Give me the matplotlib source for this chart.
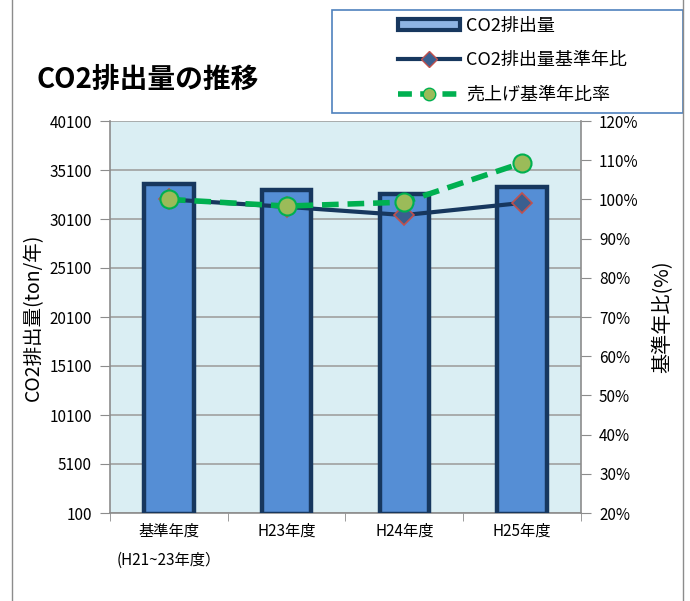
import numpy as np
import matplotlib
matplotlib.use('Agg')
import matplotlib.pyplot as plt
from matplotlib.patches import Patch, Rectangle
from matplotlib.lines import Line2D
from matplotlib.ticker import FuncFormatter

plt.rcParams['font.family'] = ['Noto Sans CJK JP', 'DejaVu Sans']

categories = ['基準年度\n(H21~23年度）', 'H23年度', 'H24年度', 'H25年度']
co2 = [33670, 33060, 32650, 33370]
co2_ratio = [1.000, 0.981, 0.960, 0.991]
sales_ratio = [1.000, 0.983, 0.993, 1.093]
left_ticks = [100, 5100, 10100, 15100, 20100, 25100, 30100, 35100, 40100]
right_ticks = [0.2, 0.3, 0.4, 0.5, 0.6, 0.7, 0.8, 0.9, 1.0, 1.1, 1.2]

W, H = 690, 601
fig = plt.figure(figsize=(W / 100, H / 100), dpi=100)

# outer chart border (cropped at top/bottom)
fig.add_artist(Line2D([12 / W, 12 / W], [0, 1], color='#8c8c8c', lw=1))
fig.add_artist(Line2D([683 / W, 683 / W], [0, 1], color='#8c8c8c', lw=1))

ax = fig.add_axes([110 / W, (H - 513) / H, 471 / W, 392 / H])
ax.set_facecolor('#daeef3')
x = np.arange(len(categories))
ax.bar(x, co2, width=0.42, color='#558ed5', edgecolor='#17375e', linewidth=3.2, zorder=3)
ax.set_ylim(100, 40100)
ax.set_xlim(-0.5, 3.5)
ax.set_yticks(left_ticks)
ax.yaxis.grid(True, color='#a0a0a0', linewidth=1.2, zorder=0)
ax.set_axisbelow(True)
ax.set_xticks(x)
ax.set_xticklabels(categories, fontsize=11, linespacing=1.9)
ax.set_xticks(np.arange(-0.5, 4.0, 1.0), minor=True)
ax.tick_params(axis='x', which='major', length=0, pad=7)
ax.tick_params(axis='x', which='minor', length=6, color='#8c8c8c', direction='out')
ax.tick_params(axis='y', length=7, color='#8c8c8c', labelsize=11, pad=6)
for s in ['top', 'right']:
    ax.spines[s].set_visible(False)
for s in ['left', 'bottom']:
    ax.spines[s].set_color('#8c8c8c')
    ax.spines[s].set_linewidth(1.2)
ax.set_ylabel('CO2排出量(ton/年)', fontsize=14, labelpad=4)

ax2 = ax.twinx()
ax2.set_ylim(0.2, 1.2)
ax2.set_yticks(right_ticks)
ax2.yaxis.set_major_formatter(FuncFormatter(lambda v, p: '{:.0f}%'.format(v * 100)))
ax2.tick_params(axis='y', length=7, color='#8c8c8c', labelsize=11, pad=6)
for s in ['top', 'left', 'bottom']:
    ax2.spines[s].set_visible(False)
ax2.spines['right'].set_color('#8c8c8c')
ax2.spines['right'].set_linewidth(1.2)
ax2.plot(x, co2_ratio, color='#17375e', linewidth=3, marker='D', markersize=10,
         markerfacecolor='#3a5f8f', markeredgecolor='#c0504d', markeredgewidth=1.2, zorder=4)
ax2.plot(x, sales_ratio, color='#00b050', linewidth=4, dashes=(3, 1.6), marker='o', markersize=13,
         markerfacecolor='#9bbb59', markeredgecolor='#00b050', markeredgewidth=1.5, zorder=5)
ax2.set_ylabel('基準年比(%)', fontsize=14.5, labelpad=10)

fig.text(37 / W, 1 - 80 / H, 'CO2排出量の推移', fontsize=20, fontweight='bold', va='center')

# legend
fig.add_artist(Rectangle((332 / W, 1 - 113 / H), 351 / W, 103 / H, transform=fig.transFigure,
                         facecolor='white', edgecolor='#4f81bd', linewidth=1.2))
handles = [
    Patch(facecolor='#8eb4e3', edgecolor='#17375e', linewidth=3),
    Line2D([], [], color='#17375e', linewidth=3, marker='D', markersize=8,
           markerfacecolor='#3a5f8f', markeredgecolor='#c0504d'),
    Line2D([], [], color='#00b050', linewidth=4, dashes=(2.5, 1.5), marker='o', markersize=9,
           markerfacecolor='#9bbb59', markeredgecolor='#00b050'),
]
labels = ['CO2排出量', 'CO2排出量基準年比', '売上げ基準年比率']
fig.legend(handles, labels, loc='upper left', bbox_to_anchor=(382 / W, 1 - 0.5 / H), frameon=False,
           fontsize=13, handlelength=3.4, handleheight=0.55, labelspacing=0.92, handletextpad=0.35)

fig.savefig('out.png', dpi=100)
